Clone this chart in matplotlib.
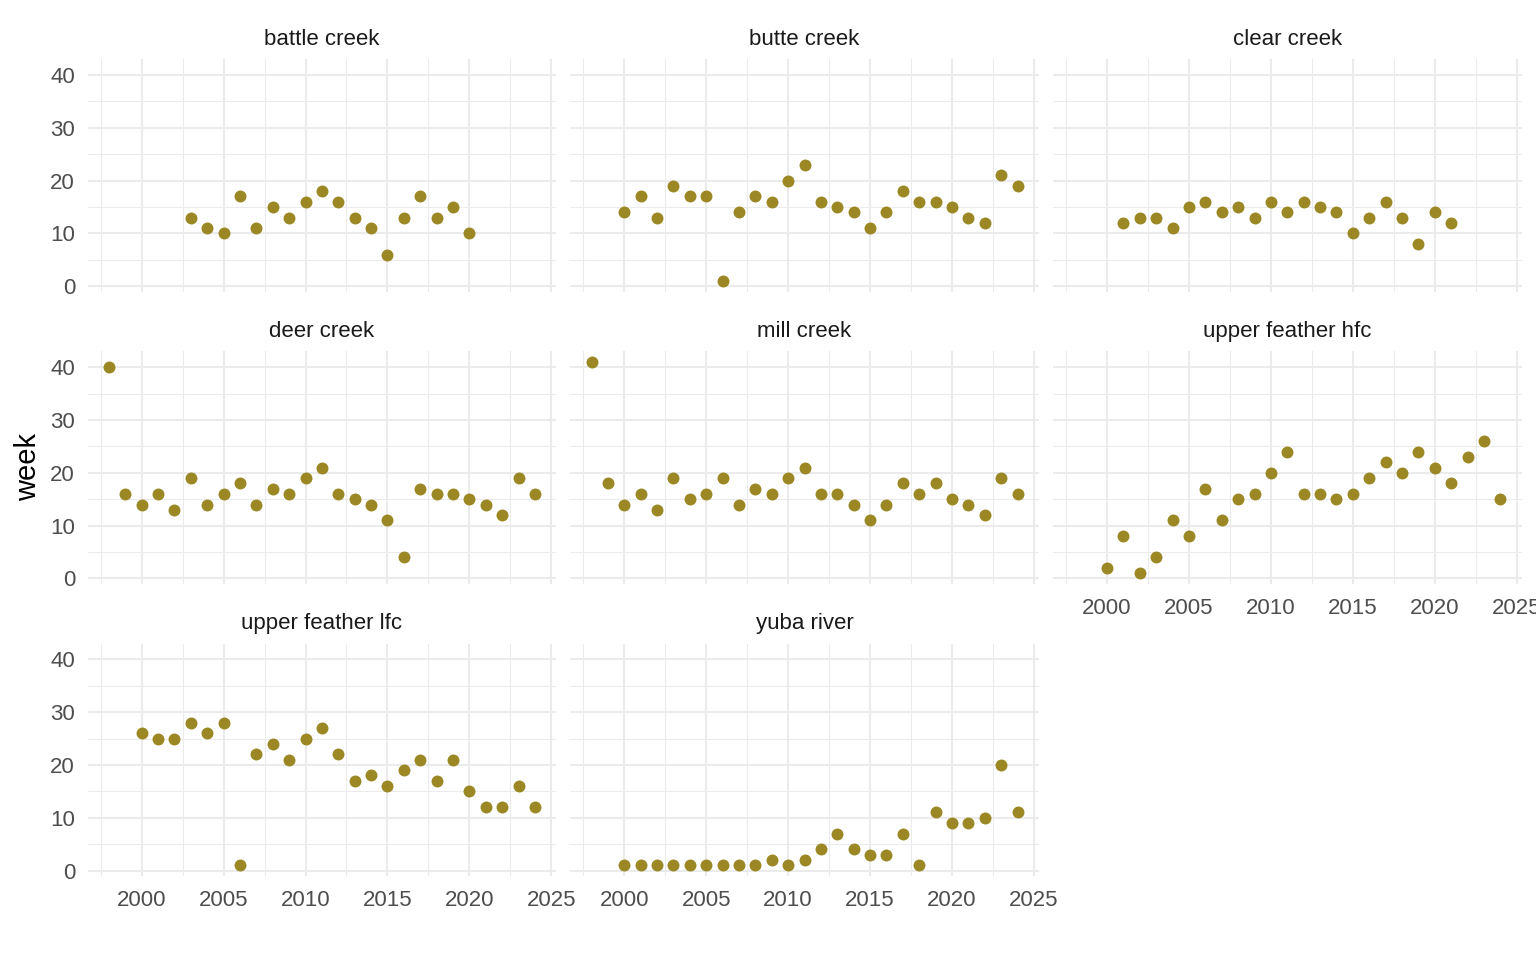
import matplotlib
matplotlib.use('Agg')
import matplotlib.pyplot as plt
from matplotlib.ticker import MultipleLocator

plt.rcParams['font.family'] = ['Liberation Sans', 'DejaVu Sans']

# peak week per year and site
sites = ['battle creek', 'butte creek', 'clear creek', 'deer creek', 'mill creek',
         'upper feather hfc', 'upper feather lfc', 'yuba river']

years_battle = list(range(2003, 2021))
week_battle = [13, 11, 10, 17, 11, 15, 13, 16, 18, 16, 13, 11, 6, 13, 17, 13, 15, 10]

years_butte = list(range(2000, 2025))
week_butte = [14, 17, 13, 19, 17, 17, 1, 14, 17, 16, 20, 23, 16, 15, 14, 11, 14, 18,
              16, 16, 15, 13, 12, 21, 19]

years_clear = list(range(2001, 2022))
week_clear = [12, 13, 13, 11, 15, 16, 14, 15, 13, 16, 14, 16, 15, 14, 10, 13, 16, 13,
              8, 14, 12]

years_deer = list(range(1998, 2025))
week_deer = [40, 16, 14, 16, 13, 19, 14, 16, 18, 14, 17, 16, 19, 21, 16, 15, 14, 11,
             4, 17, 16, 16, 15, 14, 12, 19, 16]

years_mill = list(range(1998, 2025))
week_mill = [41, 18, 14, 16, 13, 19, 15, 16, 19, 14, 17, 16, 19, 21, 16, 16, 14, 11,
             14, 18, 16, 18, 15, 14, 12, 19, 16]

years_hfc = list(range(2000, 2025))
week_hfc = [2, 8, 1, 4, 11, 8, 17, 11, 15, 16, 20, 24, 16, 16, 15, 16, 19, 22, 20, 24,
            21, 18, 23, 26, 15]

years_lfc = list(range(2000, 2025))
week_lfc = [26, 25, 25, 28, 26, 28, 1, 22, 24, 21, 25, 27, 22, 17, 18, 16, 19, 21, 17,
            21, 15, 12, 12, 16, 12]

years_yuba = list(range(2000, 2025))
week_yuba = [1, 1, 1, 1, 1, 1, 1, 1, 1, 2, 1, 2, 4, 7, 4, 3, 3, 7, 1, 11, 9, 9, 10, 20, 11]

all_years = [years_battle, years_butte, years_clear, years_deer, years_mill,
             years_hfc, years_lfc, years_yuba]
all_weeks = [week_battle, week_butte, week_clear, week_deer, week_mill,
             week_hfc, week_lfc, week_yuba]

W, H = 1536, 960
fig = plt.figure(figsize=(W / 100, H / 100), dpi=100)

col_left = [87.6, 570.2, 1053]
col_width = 468.6
row_top = [59.2, 351.4, 643.5]
row_height = 232.3

point_col = '#9B8824'
grid_col = '#EBEBEB'

for i, site in enumerate(sites):
    r, c = divmod(i, 3)
    ax = fig.add_axes([col_left[c] / W, 1 - (row_top[r] + row_height) / H,
                       col_width / W, row_height / H])
    ax.set_xlim(1996.7, 2025.3)
    ax.set_ylim(-1, 43)
    ax.xaxis.set_major_locator(MultipleLocator(5))
    ax.xaxis.set_minor_locator(MultipleLocator(2.5))
    ax.yaxis.set_major_locator(MultipleLocator(10))
    ax.yaxis.set_minor_locator(MultipleLocator(5))
    ax.grid(which='major', color=grid_col, lw=1.5)
    ax.grid(which='minor', color=grid_col, lw=0.75)
    ax.set_axisbelow(True)
    for s in ax.spines.values():
        s.set_visible(False)
    ax.tick_params(which='both', length=0, labelsize=16, labelcolor='#4D4D4D')
    ax.tick_params(axis='x', pad=10)
    ax.tick_params(axis='y', pad=9)
    show_x = (r == 2) or (i == 5)
    if not show_x:
        ax.set_xticklabels([])
    if c != 0:
        ax.set_yticklabels([])
    ax.plot(all_years[i], all_weeks[i], 'o', color=point_col, markersize=8.6,
            markeredgewidth=0, clip_on=False)
    ax.text(0.5, 1 + 19.5 / row_height, site, transform=ax.transAxes, ha='center',
            va='center', fontsize=16, color='#1A1A1A')

fig.text(28 / W, 1 - 467 / H, 'week', rotation=90, ha='center', va='center',
         fontsize=21, color='black')

fig.savefig('out.png', dpi=100, facecolor='white')
